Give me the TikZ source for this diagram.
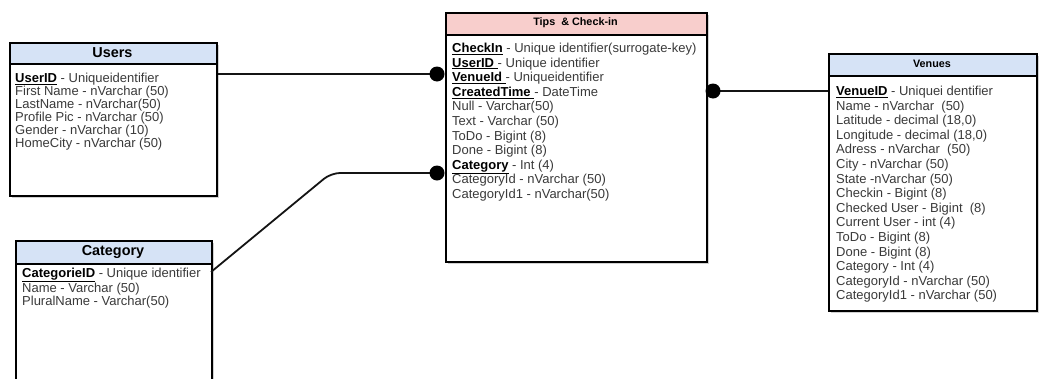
\documentclass[tikz,border=0pt]{standalone}
\usepackage{fontspec}
\setmainfont{Liberation Sans}
\usetikzlibrary{shadows}
\definecolor{hdrblue}{HTML}{D6E3F6}
\definecolor{hdrpink}{HTML}{F8CECC}
\definecolor{rowgray}{HTML}{3A3A3A}
% primary / foreign key field name: bold, black, underlined
\newcommand{\pk}[1]{{\color{black}\underline{\textbf{#1}}}}

\begin{document}
\begin{tikzpicture}[x=1pt,y=-1pt,
  tbl/.style={draw=black, line width=1.5pt, fill=white, inner sep=0pt,
    anchor=north west, drop shadow={shadow xshift=2.5pt, shadow yshift=-2.5pt,
    fill=black, opacity=0.18}},
  hdr/.style={draw=black, line width=1.5pt, inner sep=0pt, anchor=north west},
  bigtitle/.style={font=\fontsize{14.4}{14.4}\selectfont\bfseries, inner sep=0pt},
  smalltitle/.style={font=\fontsize{10.8}{10.8}\selectfont\bfseries, inner sep=0pt},
  % the field lists are placed by the baseline of their last line
  rowsA/.style={anchor=base west, inner sep=0pt, align=left, text=rowgray,
    font=\fontsize{13}{13}\selectfont},
  rowsB/.style={anchor=base west, inner sep=0pt, align=left, text=rowgray,
    font=\fontsize{13}{14.6}\selectfont},
  link/.style={line width=1.8pt, draw=black!92},
  dot/.style={circle, fill=black, inner sep=0pt, minimum size=15pt}]

\useasboundingbox (0,0) rectangle (1041,378);

% ---------- Users ----------
\node[tbl, minimum width=207, minimum height=153] (users) at (9,42) {};
\node[hdr, fill=hdrblue, minimum width=207, minimum height=21] (usersh) at (9,42) {};
\node[bigtitle] (userst) at (112.5,53) {Users};
\node[rowsA] (usersr) at (15,147.5) {%
  \pk{UserID} - Uniqueidentifier\\
  First Name - nVarchar (50)\\
  LastName - nVarchar(50)\\
  Profile Pic - nVarchar (50)\\
  Gender - nVarchar (10)\\
  HomeCity - nVarchar (50)};

% ---------- Category ----------
\node[tbl, minimum width=196, minimum height=170] (category) at (15,240) {};
\node[hdr, fill=hdrblue, minimum width=196, minimum height=23] (categoryh) at (15,240) {};
\node[bigtitle] (categoryt) at (113,252) {Category};
\node[rowsA] (categoryr) at (22,305.5) {%
  \pk{CategorieID} - Unique identifier\\
  Name - Varchar (50)\\
  PluralName - Varchar(50)};

% ---------- Tips & Check-in ----------
\node[tbl, minimum width=261, minimum height=249] (tips) at (445,12) {};
\node[hdr, fill=hdrpink, minimum width=261, minimum height=22] (tipsh) at (445,12) {};
\node[smalltitle] (tipst) at (575.5,23) {Tips \ \& Check-in};
\node[rowsB] (tipsr) at (452,198.5) {%
  \pk{CheckIn} - Unique identifier(surrogate-key)\\
  \pk{UserID\ }- Unique identifier\\
  \pk{VenueId\ }- Uniqueidentifier\\
  \pk{CreatedTime\ }- DateTime\\
  Null - Varchar(50)\\
  Text - Varchar (50)\\
  ToDo - Bigint (8)\\
  Done - Bigint (8)\\
  \pk{Category} - Int (4)\\
  CategoryId - nVarchar (50)\\
  CategoryId1 - nVarchar(50)};

% ---------- Venues ----------
\node[tbl, minimum width=208, minimum height=257] (venues) at (828,53) {};
\node[hdr, fill=hdrblue, minimum width=208, minimum height=22] (venuesh) at (828,53) {};
\node[smalltitle] (venuest) at (932,64) {Venues};
\node[rowsB] (venuesr) at (836,299.9) {%
  \pk{VenueID} - Uniquei dentifier\\
  Name - nVarchar \ (50)\\
  Latitude - decimal (18,0)\\
  Longitude - decimal (18,0)\\
  Adress - nVarchar \ (50)\\
  City - nVarchar (50)\\
  State -nVarchar (50)\\
  Checkin - Bigint (8)\\
  Checked User - Bigint \ (8)\\
  Current User - int (4)\\
  ToDo - Bigint (8)\\
  Done - Bigint (8)\\
  Category - Int (4)\\
  CategoryId - nVarchar (50)\\
  CategoryId1 - nVarchar (50)};

% ---------- relationships ----------
\coordinate (d1) at (437,74);
\coordinate (d2) at (437,173);
\coordinate (d3) at (713,91);
\coordinate (bend) at (331,173);
\coordinate (catout) at (211,272);

\draw[link] (d1) -- (d1 -| users.east);
\draw[link, rounded corners=9pt] (d2) -- (bend) -- (catout);
\draw[link] (d3) -- (d3 -| venues.west);

\node[dot] (dot1) at (d1) {};
\node[dot] (dot2) at (d2) {};
\node[dot] (dot3) at (d3) {};
\end{tikzpicture}
\end{document}
